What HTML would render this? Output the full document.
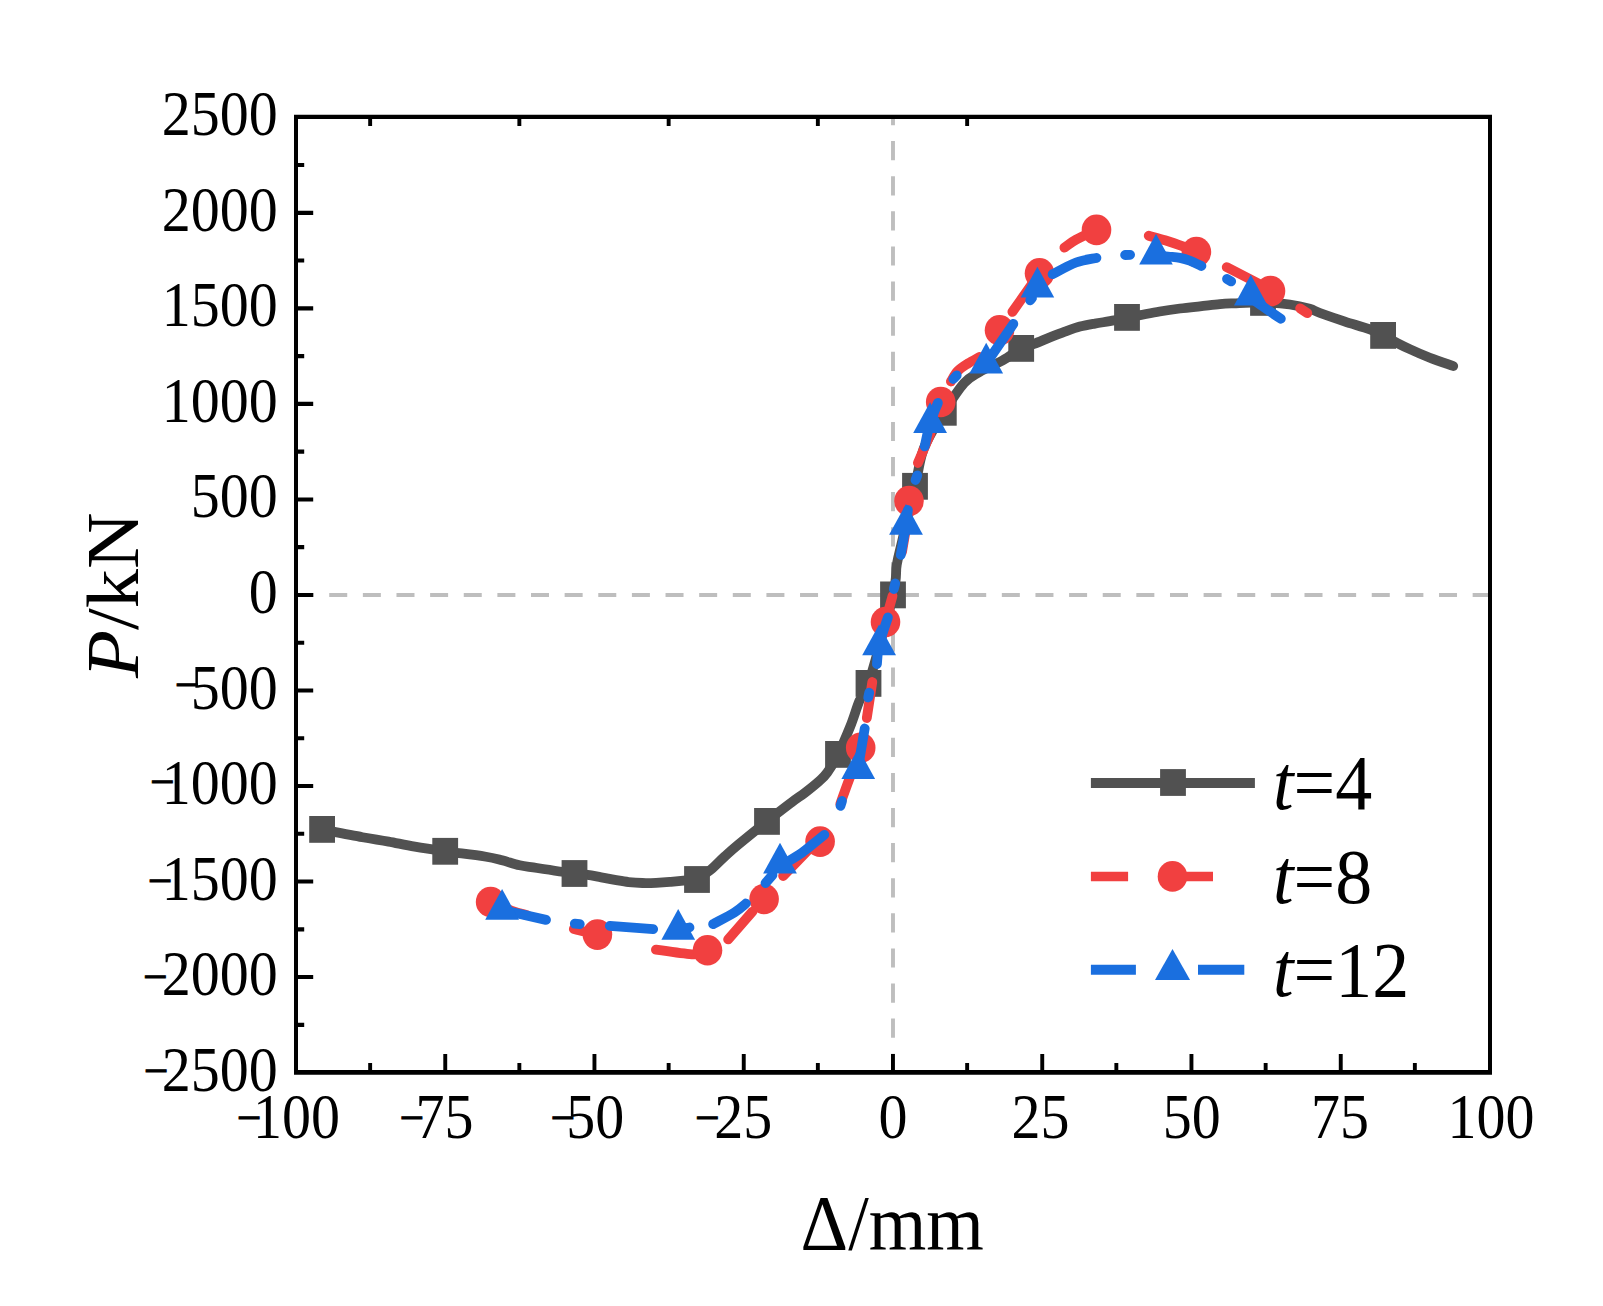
<!DOCTYPE html>
<html lang="en">
<head>
<meta charset="utf-8">
<title>P-Δ skeleton curves</title>
<style>
html,body{margin:0;padding:0;background:#fff}
body{width:1603px;height:1306px;overflow:hidden}
svg{display:block}
</style>
</head>
<body>
<svg width="1603" height="1306" viewBox="0 0 1603 1306">
<rect width="1603" height="1306" fill="#fff"/>
<g stroke="#BEBEBE" stroke-width="4.2" fill="none">
<path d="M295.6 595 H1490" stroke-dasharray="18 15.63"/>
<path d="M893 117 V1072.3" stroke-width="3.9" stroke-dasharray="19.2 15.9" stroke-dashoffset="11"/>
</g>
<g id="s1">
<path d="M322.1 829.4C328.8 830.7 351.3 835.2 362.4 837.2C373.5 839.2 379.9 840 388.6 841.6C397.3 843.2 405.4 845 414.8 846.6C424.2 848.2 433.6 849.6 445.2 851.3C456.8 852.9 475.2 855 484.7 856.5C494.2 858 496.3 858.8 502.1 860.3C507.9 861.8 513.8 864 519.6 865.3C525.4 866.6 528 866.6 537.1 868C546.2 869.4 566.1 872.4 574.5 873.5C582.9 874.6 583 874.3 587.5 874.9C592 875.5 596.6 876.5 601.2 877.3C605.8 878.1 610.3 879.1 614.9 879.9C619.5 880.7 624 881.6 628.6 882.1C633.2 882.6 637.8 882.9 642.4 883C647 883.1 651.5 883 656.1 882.8C660.7 882.6 665.2 882.3 669.8 881.9C674.4 881.5 679 881 683.5 880.6C688 880.2 694.8 879.7 697 879.5M697 879.5C699.3 877.8 706.4 873.3 711 869.5C715.6 865.7 720.1 860.6 724.7 856.5C729.3 852.4 731.3 850.5 738.4 844.6C745.5 838.7 758.3 828.3 767.1 821.3C775.9 814.3 785 807.4 791.3 802.6C797.6 797.8 800.5 796.2 805.1 792.6C809.7 789 815.2 784.6 818.9 781.3C822.6 778 824 777.2 827.2 772.7C830.4 768.2 834.1 762.1 838 754.4C841.9 746.7 846.7 735.3 850.3 726.4C853.9 717.5 856.5 707.9 859.5 700.7C862.5 693.6 862.9 701.1 868.5 683.5C874.1 665.9 888.3 614.7 893 594.9C897.7 575.1 895.2 573.6 896.8 564.5C898.4 555.4 899.4 553 902.4 540C905.4 527 911.9 500.1 915 486.4C918.1 472.7 919.1 465.1 921 457.8C922.9 450.5 922.6 450.1 926.4 442.5C930.2 434.9 937.5 422.2 943.8 412.3C950.1 402.4 958.2 389.8 964.2 383.1C970.2 376.4 973.1 375.8 979.5 372C985.9 368.2 995.5 364.4 1002.5 360.5C1009.5 356.6 1016 351.2 1021.2 348.4C1026.5 345.6 1029.2 345.7 1034 343.9C1038.8 342.1 1044.8 339.4 1049.9 337.4C1055.1 335.3 1059.9 333.4 1064.9 331.6C1069.9 329.8 1074.9 327.9 1079.9 326.6C1084.9 325.3 1089.2 324.6 1094.9 323.6C1100.6 322.6 1108.8 321.4 1114.1 320.4C1119.4 319.4 1122.7 318.3 1127 317.4C1131.3 316.5 1134.5 316.1 1140 315.1C1145.5 314.1 1153 312.6 1159.7 311.5C1166.4 310.4 1173.3 309.4 1180 308.5C1186.7 307.6 1193.2 307 1199.9 306.3C1206.6 305.6 1214.2 304.6 1219.9 304.1C1225.6 303.6 1226.7 303.6 1233.9 303.3C1241.1 303 1253.7 302.2 1263 302.4C1272.3 302.6 1282 303.4 1289.8 304.5C1297.6 305.6 1304.7 307.4 1309.7 308.8C1314.7 310.2 1314.1 310.9 1320 313C1325.9 315.1 1336.7 318.9 1345 321.6C1353.3 324.3 1363.6 327.1 1369.9 329.4C1376.2 331.7 1378.8 333.2 1383.1 335.4C1387.4 337.6 1391.5 340.1 1396 342.4C1400.5 344.7 1404.2 346.6 1409.8 349.1C1415.4 351.7 1422.6 354.9 1429.8 357.7C1437 360.5 1449.3 364.6 1453.2 366" fill="none" stroke="#515151" stroke-width="9.8" stroke-linecap="round" stroke-linejoin="round"/>
<g fill="#515151">
<rect x="309.2" y="816" width="25.8" height="26.8"/>
<rect x="432.3" y="837.9" width="25.8" height="26.8"/>
<rect x="561.6" y="860.1" width="25.8" height="26.8"/>
<rect x="684.1" y="866.1" width="25.8" height="26.8"/>
<rect x="754.1" y="808" width="25.8" height="26.8"/>
<rect x="825.1" y="741" width="25.8" height="26.8"/>
<rect x="855.6" y="670" width="25.8" height="26.8"/>
<rect x="880.1" y="581.5" width="25.8" height="26.8"/>
<rect x="902.1" y="472.9" width="25.8" height="26.8"/>
<rect x="930.9" y="398.9" width="25.8" height="26.8"/>
<rect x="1008.3" y="335" width="25.8" height="26.8"/>
<rect x="1114.1" y="304" width="25.8" height="26.8"/>
<rect x="1250.1" y="289" width="25.8" height="26.8"/>
<rect x="1370.2" y="322" width="25.8" height="26.8"/>
</g></g>
<g id="s2">
<g fill="none" stroke="#F14040" stroke-width="9.8" stroke-linecap="round" stroke-linejoin="round">
<path d="M490.6 902C494.2 903.5 505.8 908.6 511.9 910.8C518 913 524.5 914.5 527 915.2"/>
<path d="M573.8 929C577.7 929.9 592 933.4 597.4 934.6C602.8 935.8 604.6 936 606 936.3"/>
<path d="M655.9 949.7C661.5 950.5 683.2 953.5 689.7 954.2C696.2 954.9 694.1 954 695 954"/>
<path d="M728.1 939.4L752.5 911.6"/>
<path d="M783.1 876L808.9 849.4"/>
<path d="M840.3 803.9C841.8 799.7 847.3 784.4 849.5 778.6C851.7 772.8 852.7 770.8 853.3 769.3"/>
<path d="M866.8 718L872.3 682"/>
<path d="M882.8 634.5C883.2 632.4 883.9 628.4 885.5 622C887.1 615.6 891.3 600.3 892.5 596"/>
<path d="M902 552L908.3 515"/>
<path d="M917.9 463L930.5 433.6"/>
<path d="M950.9 381.5C952 379.8 954.9 374 957.8 371C960.6 368 964.4 365.8 968 363.5C971.6 361.2 977.6 358.1 979.5 357"/>
<path d="M1012.4 311.9L1033.7 281.6"/>
<path d="M1064.4 247.6C1066.4 246.3 1070.7 242.5 1076.1 239.6C1081.5 236.7 1093.3 231.5 1096.7 229.9"/>
<path d="M1148.7 235.7C1151.4 236.5 1159.2 238.5 1165 240.3C1170.8 242.1 1180.2 245.5 1183.2 246.5"/>
<path d="M1226.7 267.2L1259.5 284"/>
<path d="M1300.1 308.4L1307.3 313.2"/>
</g><g fill="#F14040">
<ellipse cx="490.6" cy="902" rx="14.8" ry="15.3"/>
<ellipse cx="597.4" cy="934.6" rx="14.8" ry="15.3"/>
<ellipse cx="707.5" cy="950.3" rx="14.8" ry="15.3"/>
<ellipse cx="764.1" cy="899" rx="14.8" ry="15.3"/>
<ellipse cx="820.1" cy="841.6" rx="14.8" ry="15.3"/>
<ellipse cx="860.7" cy="747.8" rx="14.8" ry="15.3"/>
<ellipse cx="885.5" cy="622" rx="14.8" ry="15.3"/>
<ellipse cx="909" cy="501" rx="14.8" ry="15.3"/>
<ellipse cx="940.7" cy="402" rx="14.8" ry="15.3"/>
<ellipse cx="999.5" cy="330.3" rx="14.8" ry="15.3"/>
<ellipse cx="1039.5" cy="273.2" rx="14.8" ry="15.3"/>
<ellipse cx="1096.5" cy="229.9" rx="14.8" ry="15.3"/>
<ellipse cx="1196.4" cy="252" rx="14.8" ry="15.3"/>
<ellipse cx="1270.5" cy="291.1" rx="14.8" ry="15.3"/>
</g></g>
<g id="s3">
<g fill="none" stroke="#1A6FDF" stroke-width="9.8" stroke-linecap="round" stroke-linejoin="round">
<path d="M502 910L546 919.9"/>
<path d="M574.8 923.7L579.8 924.1"/>
<path d="M609.8 925.9L653.2 929.1"/>
<path d="M684.5 928.3L689.5 927.5"/>
<path d="M713.1 924.1C716.7 922.1 729.1 915.7 734.6 912.3C740.1 908.9 744 905 745.9 903.5"/>
<path d="M765.5 883.1L772.5 875"/>
<path d="M787 862C789.5 860.5 797.2 856.1 802 852.7C806.8 849.3 812.1 844.7 815.8 841.7C819.5 838.7 823 835.9 824.4 834.8"/>
<path d="M840.5 805.8L842 801"/>
<path d="M857.3 772.7L864.7 728.5"/>
<path d="M868.2 697.5L869.2 692.7"/>
<path d="M876.9 664.1C877.3 661 877.3 653 879.1 645.2C880.9 637.4 886.4 622 887.9 617.4"/>
<path d="M893.8 589L895.2 583.5"/>
<path d="M900.8 554.9C901.7 549.9 904.8 532.1 906 524.6C907.2 517.1 907.6 512.4 907.9 510"/>
<path d="M915.5 480L917.3 475.4"/>
<path d="M924.7 446.4C925.6 442.5 927.9 430.1 930.1 422.8C932.3 415.6 936.6 406.2 937.9 402.9"/>
<path d="M953.3 379L956.7 375.4"/>
<path d="M986.2 363.4L1013.3 323.9"/>
<path d="M1030.2 300.3L1032 298"/>
<path d="M1052.6 274.2C1056.5 272.2 1068.8 265.2 1076.1 262.5C1083.4 259.8 1093 258.7 1096.4 257.9"/>
<path d="M1125.1 255L1130.1 254.8"/>
<path d="M1158 256C1160 256.1 1166.3 256.5 1170 256.8C1173.7 257.1 1176.7 257.2 1180 257.9C1183.3 258.6 1186.4 259.4 1190 260.8C1193.6 262.2 1199.5 265.1 1201.4 266"/>
<path d="M1227 279L1231.2 281.4"/>
<path d="M1249 296.5C1250.9 297.9 1255 301.1 1260.3 304.8C1265.6 308.5 1277.4 316.5 1280.8 318.8"/>
</g><g fill="#1A6FDF">
<path d="M485.2 919.7 L519 919.7 L502.1 889 Z"/>
<path d="M661.4 939.8 L695.1 939.8 L678.2 909.1 Z"/>
<path d="M763.1 873.4 L796.9 873.4 L780 842.7 Z"/>
<path d="M841.4 778.9 L875.1 778.9 L858.2 748.2 Z"/>
<path d="M862.2 655.3 L896 655.3 L879.1 624.6 Z"/>
<path d="M889.1 534.7 L922.9 534.7 L906 504 Z"/>
<path d="M913.2 432.9 L947 432.9 L930.1 402.2 Z"/>
<path d="M969.4 373.5 L1003.1 373.5 L986.2 342.8 Z"/>
<path d="M1020.6 297.4 L1054.2 297.4 L1037.4 266.7 Z"/>
<path d="M1139.2 264.5 L1172.8 264.5 L1156 233.8 Z"/>
<path d="M1234 305.5 L1267.6 305.5 L1250.8 274.8 Z"/>
</g></g>
<g id="axes" fill="#000">
<path fill-rule="evenodd" d="M294 114.7H1492V1074.7H294ZM298 119V1070H1488V119Z"/>
<path d="M297 163h7.2v4.1h-7.2zM297 210.8h16.2v4.1h-16.2zM297 258.5h7.2v4.1h-7.2zM297 306.3h16.2v4.1h-16.2zM297 354.1h7.2v4.1h-7.2zM297 401.8h16.2v4.1h-16.2zM297 449.6h7.2v4.1h-7.2zM297 497.4h16.2v4.1h-16.2zM297 545.1h7.2v4.1h-7.2zM297 592.9h16.2v4.1h-16.2zM297 640.7h7.2v4.1h-7.2zM297 688.4h16.2v4.1h-16.2zM297 736.2h7.2v4.1h-7.2zM297 784h16.2v4.1h-16.2zM297 831.7h7.2v4.1h-7.2zM297 879.5h16.2v4.1h-16.2zM297 927.3h7.2v4.1h-7.2zM297 975h16.2v4.1h-16.2zM297 1022.8h7.2v4.1h-7.2zM368.2 1071v-8.1h3.9v8.1zM368.2 118v8h3.9v-8zM443.3 1071v-16.9h3.9v16.9zM517.4 1071v-8.1h3.9v8.1zM517.4 118v8h3.9v-8zM592.5 1071v-16.9h3.9v16.9zM666.7 1071v-8.1h3.9v8.1zM666.7 118v8h3.9v-8zM741.8 1071v-16.9h3.9v16.9zM815.9 1071v-8.1h3.9v8.1zM815.9 118v8h3.9v-8zM891 1071v-16.9h3.9v16.9zM965.2 1071v-8.1h3.9v8.1zM965.2 118v8h3.9v-8zM1040.3 1071v-16.9h3.9v16.9zM1114.4 1071v-8.1h3.9v8.1zM1189.5 1071v-16.9h3.9v16.9zM1263.7 1071v-8.1h3.9v8.1zM1338.8 1071v-16.9h3.9v16.9zM1412.9 1071v-8.1h3.9v8.1z"/>
</g>
<g font-family="'Liberation Serif','Times New Roman',serif" font-size="58.0" fill="#000">
<text transform="translate(277.8 135.3) scale(1 1.08)" text-anchor="end">2500</text>
<text transform="translate(277.8 230.8) scale(1 1.08)" text-anchor="end">2000</text>
<text transform="translate(277.8 326.4) scale(1 1.08)" text-anchor="end">1500</text>
<text transform="translate(277.8 421.9) scale(1 1.08)" text-anchor="end">1000</text>
<text transform="translate(277.8 517.4) scale(1 1.08)" text-anchor="end">500</text>
<text transform="translate(277.8 612.9) scale(1 1.08)" text-anchor="end">0</text>
<text transform="translate(277.8 708.5) scale(1 1.08)" text-anchor="end">500</text>
<text transform="translate(175 699.6) scale(1 1.045)" font-size="43.5" stroke="#000" stroke-width="0.9">−</text>
<text transform="translate(277.8 804) scale(1 1.08)" text-anchor="end">1000</text>
<text transform="translate(150.2 796.8) scale(1 1.045)" font-size="43.5" stroke="#000" stroke-width="0.9">−</text>
<text transform="translate(277.8 899.5) scale(1 1.08)" text-anchor="end">1500</text>
<text transform="translate(148 895.7) scale(1 1.045)" font-size="43.5" stroke="#000" stroke-width="0.9">−</text>
<text transform="translate(277.8 995.1) scale(1 1.08)" text-anchor="end">2000</text>
<text transform="translate(143.3 991.8) scale(1 1.045)" font-size="43.5" stroke="#000" stroke-width="0.9">−</text>
<text transform="translate(277.8 1090.6) scale(1 1.08)" text-anchor="end">2500</text>
<text transform="translate(144 1086.2) scale(1 1.045)" font-size="43.5" stroke="#000" stroke-width="0.9">−</text>
<text transform="translate(296.4 1138.1) scale(1 1.08)" text-anchor="middle">100</text>
<text transform="translate(236.9 1132.8) scale(1 1.045)" font-size="43.5" stroke="#000" stroke-width="0.9">−</text>
<text transform="translate(444.6 1138.1) scale(1 1.08)" text-anchor="middle">75</text>
<text transform="translate(399.8 1132.8) scale(1 1.045)" font-size="43.5" stroke="#000" stroke-width="0.9">−</text>
<text transform="translate(595.2 1138.1) scale(1 1.08)" text-anchor="middle">50</text>
<text transform="translate(550.8 1132.8) scale(1 1.045)" font-size="43.5" stroke="#000" stroke-width="0.9">−</text>
<text transform="translate(743.3 1138.1) scale(1 1.08)" text-anchor="middle">25</text>
<text transform="translate(695.2 1132.8) scale(1 1.045)" font-size="43.5" stroke="#000" stroke-width="0.9">−</text>
<text transform="translate(893 1138.1) scale(1 1.08)" text-anchor="middle">0</text>
<text transform="translate(1040.6 1138.1) scale(1 1.08)" text-anchor="middle">25</text>
<text transform="translate(1191.8 1138.1) scale(1 1.08)" text-anchor="middle">50</text>
<text transform="translate(1340 1138.1) scale(1 1.08)" text-anchor="middle">75</text>
<text transform="translate(1491 1138.1) scale(1 1.08)" text-anchor="middle">100</text>
</g>
<g font-family="'Liberation Serif','Times New Roman',serif" font-size="74.0" fill="#000">
<text transform="translate(892.2 1249) scale(1 1.045)" text-anchor="middle">Δ/mm</text>
<text transform="translate(138.1 595.2) scale(1 1.06) rotate(-90)" text-anchor="middle"><tspan font-style="italic">P</tspan>/kN</text>
</g>
<g id="legend">
<path d="M1090.9 783.1H1254.9" stroke="#515151" stroke-width="10" fill="none"/>
<rect x="1160.1" y="769.1" width="25.8" height="26.8" fill="#515151"/>
<path d="M1090.9 876.5H1128.1M1176 876.5H1213" stroke="#F14040" stroke-width="9.6" fill="none"/>
<ellipse cx="1172.5" cy="876.4" rx="14.8" ry="15.3" fill="#F14040"/>
<path d="M1090.9 969.8H1135.9M1198 969.8H1244.3" stroke="#1A6FDF" stroke-width="10" fill="none"/>
<path d="M1155 979.9L1190.1 979.9L1172.5 948.9Z" fill="#1A6FDF"/>
<g font-family="'Liberation Serif','Times New Roman',serif" font-size="74.0" fill="#000">
<text transform="translate(1273 809.1) scale(1 1.045)"><tspan font-style="italic">t</tspan>=4</text>
<text transform="translate(1273 902.6) scale(1 1.045)"><tspan font-style="italic">t</tspan>=8</text>
<text transform="translate(1273 996.3) scale(1 1.045)"><tspan font-style="italic">t</tspan>=12</text>
</g></g>
</svg>
</body>
</html>
